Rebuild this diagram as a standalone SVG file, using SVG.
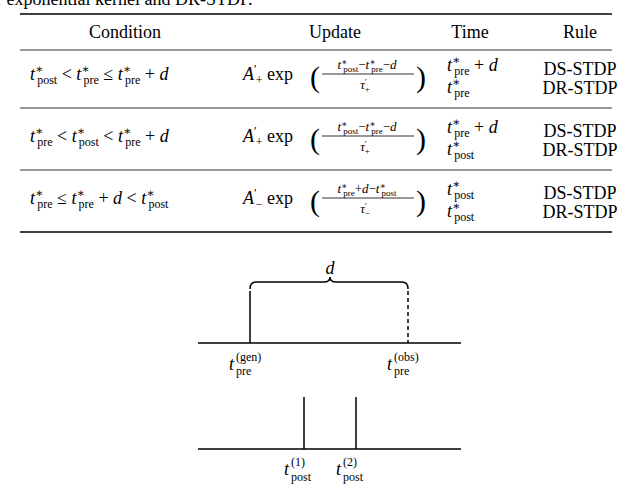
<svg xmlns="http://www.w3.org/2000/svg" width="640" height="488" viewBox="0 0 640 488" font-family="'Liberation Serif', 'DejaVu Serif', serif">
<style>
text{font-family:'Liberation Serif','DejaVu Serif',serif;font-size:18px;fill:#000}
.i{font-style:italic}
.s{font-size:12px}
.f{font-size:13px}
.p{font-size:30px}
.rule{stroke:#000;stroke-width:1.6}
.thin{stroke:#000;stroke-width:0.8}
.ax{stroke:#000;stroke-width:1.5;fill:none}
</style>
<rect width="640" height="488" fill="#fff"/>
<text x="-4" y="5">r exponential kernel and DR-STDP.</text>
<g id="table">
<line class="rule" x1="20" y1="14" x2="612" y2="14"/>
<line class="thin" x1="20" y1="50" x2="612" y2="50"/>
<line class="thin" x1="20" y1="108" x2="612" y2="108"/>
<line class="thin" x1="20" y1="170" x2="612" y2="170"/>
<line class="rule" x1="20" y1="232" x2="612" y2="232"/>
<text x="125" y="38" text-anchor="middle">Condition</text>
<text x="335" y="38" text-anchor="middle">Update</text>
<text x="470" y="38" text-anchor="middle">Time</text>
<text x="580" y="38" text-anchor="middle">Rule</text>

<!-- row 1 -->
<text x="30" y="80"><tspan class="i">t</tspan><tspan class="s" dy="-7">∗</tspan><tspan class="s" dx="-6" dy="11">post</tspan><tspan dy="-4"> &lt; </tspan><tspan class="i">t</tspan><tspan class="s" dy="-7">∗</tspan><tspan class="s" dx="-6" dy="11">pre</tspan><tspan dy="-4"> ≤ </tspan><tspan class="i">t</tspan><tspan class="s" dy="-7">∗</tspan><tspan class="s" dx="-6" dy="11">pre</tspan><tspan dy="-4"> + </tspan><tspan class="i">d</tspan></text>
<text x="243" y="80"><tspan class="i">A</tspan><tspan class="s" dy="-7">′</tspan><tspan class="s" dx="-1" dy="11">+</tspan><tspan dy="-4"> exp</tspan></text>
<text class="p" x="310" y="87">(</text>
<text class="f" x="367" y="69" text-anchor="middle"><tspan class="i">t</tspan><tspan font-size="9" dy="-4">∗</tspan><tspan font-size="9" dx="-4" dy="7">post</tspan><tspan dy="-3">−</tspan><tspan class="i">t</tspan><tspan font-size="9" dy="-4">∗</tspan><tspan font-size="9" dx="-4" dy="7">pre</tspan><tspan dy="-3">−</tspan><tspan class="i">d</tspan></text>
<line class="thin" x1="322" y1="74" x2="414" y2="74"/>
<text class="f" x="365" y="89" text-anchor="middle"><tspan class="i">τ</tspan><tspan font-size="9" dy="-4">′</tspan><tspan font-size="9" dx="-2" dy="7">+</tspan></text>
<text class="p" x="416" y="87">)</text>
<text x="447" y="71"><tspan class="i">t</tspan><tspan class="s" dy="-7">∗</tspan><tspan class="s" dx="-6" dy="11">pre</tspan><tspan dy="-4"> + </tspan><tspan class="i">d</tspan></text>
<text x="447" y="93"><tspan class="i">t</tspan><tspan class="s" dy="-7">∗</tspan><tspan class="s" dx="-6" dy="11">pre</tspan></text>
<text x="580" y="75" text-anchor="middle">DS-STDP</text>
<text x="580" y="94" text-anchor="middle">DR-STDP</text>

<!-- row 2 -->
<text x="30" y="142"><tspan class="i">t</tspan><tspan class="s" dy="-7">∗</tspan><tspan class="s" dx="-6" dy="11">pre</tspan><tspan dy="-4"> &lt; </tspan><tspan class="i">t</tspan><tspan class="s" dy="-7">∗</tspan><tspan class="s" dx="-6" dy="11">post</tspan><tspan dy="-4"> &lt; </tspan><tspan class="i">t</tspan><tspan class="s" dy="-7">∗</tspan><tspan class="s" dx="-6" dy="11">pre</tspan><tspan dy="-4"> + </tspan><tspan class="i">d</tspan></text>
<text x="243" y="142"><tspan class="i">A</tspan><tspan class="s" dy="-7">′</tspan><tspan class="s" dx="-1" dy="11">+</tspan><tspan dy="-4"> exp</tspan></text>
<text class="p" x="310" y="149">(</text>
<text class="f" x="367" y="131" text-anchor="middle"><tspan class="i">t</tspan><tspan font-size="9" dy="-4">∗</tspan><tspan font-size="9" dx="-4" dy="7">post</tspan><tspan dy="-3">−</tspan><tspan class="i">t</tspan><tspan font-size="9" dy="-4">∗</tspan><tspan font-size="9" dx="-4" dy="7">pre</tspan><tspan dy="-3">−</tspan><tspan class="i">d</tspan></text>
<line class="thin" x1="322" y1="136" x2="414" y2="136"/>
<text class="f" x="365" y="151" text-anchor="middle"><tspan class="i">τ</tspan><tspan font-size="9" dy="-4">′</tspan><tspan font-size="9" dx="-2" dy="7">+</tspan></text>
<text class="p" x="416" y="149">)</text>
<text x="447" y="133"><tspan class="i">t</tspan><tspan class="s" dy="-7">∗</tspan><tspan class="s" dx="-6" dy="11">pre</tspan><tspan dy="-4"> + </tspan><tspan class="i">d</tspan></text>
<text x="447" y="155"><tspan class="i">t</tspan><tspan class="s" dy="-7">∗</tspan><tspan class="s" dx="-6" dy="11">post</tspan></text>
<text x="580" y="137" text-anchor="middle">DS-STDP</text>
<text x="580" y="156" text-anchor="middle">DR-STDP</text>

<!-- row 3 -->
<text x="30" y="204"><tspan class="i">t</tspan><tspan class="s" dy="-7">∗</tspan><tspan class="s" dx="-6" dy="11">pre</tspan><tspan dy="-4"> ≤ </tspan><tspan class="i">t</tspan><tspan class="s" dy="-7">∗</tspan><tspan class="s" dx="-6" dy="11">pre</tspan><tspan dy="-4"> + </tspan><tspan class="i">d</tspan><tspan> &lt; </tspan><tspan class="i">t</tspan><tspan class="s" dy="-7">∗</tspan><tspan class="s" dx="-6" dy="11">post</tspan></text>
<text x="243" y="204"><tspan class="i">A</tspan><tspan class="s" dy="-7">′</tspan><tspan class="s" dx="-1" dy="11">−</tspan><tspan dy="-4"> exp</tspan></text>
<text class="p" x="310" y="211">(</text>
<text class="f" x="367" y="193" text-anchor="middle"><tspan class="i">t</tspan><tspan font-size="9" dy="-4">∗</tspan><tspan font-size="9" dx="-4" dy="7">pre</tspan><tspan dy="-3">+</tspan><tspan class="i">d</tspan><tspan>−</tspan><tspan class="i">t</tspan><tspan font-size="9" dy="-4">∗</tspan><tspan font-size="9" dx="-4" dy="7">post</tspan></text>
<line class="thin" x1="322" y1="198" x2="414" y2="198"/>
<text class="f" x="365" y="213" text-anchor="middle"><tspan class="i">τ</tspan><tspan font-size="9" dy="-4">′</tspan><tspan font-size="9" dx="-2" dy="7">−</tspan></text>
<text class="p" x="416" y="211">)</text>
<text x="447" y="195"><tspan class="i">t</tspan><tspan class="s" dy="-7">∗</tspan><tspan class="s" dx="-6" dy="11">post</tspan></text>
<text x="447" y="217"><tspan class="i">t</tspan><tspan class="s" dy="-7">∗</tspan><tspan class="s" dx="-6" dy="11">post</tspan></text>
<text x="580" y="199" text-anchor="middle">DS-STDP</text>
<text x="580" y="218" text-anchor="middle">DR-STDP</text>
</g>

<g id="pre-axis">
<line class="ax" x1="198" y1="343" x2="461" y2="343"/>
<line class="ax" x1="250" y1="291" x2="250" y2="343"/>
<line class="ax" x1="408" y1="291" x2="408" y2="343" stroke-dasharray="4,3"/>
<path class="ax" stroke-width="1.2" d="M250,289 Q250,282 256,282 L324,282 Q330,282 330,277 Q330,282 336,282 L402,282 Q408,282 408,289"/>
<text class="i" x="330" y="274" text-anchor="middle">d</text>
<text class="i" x="229" y="370">t</text>
<text class="s" x="236" y="361">(gen)</text>
<text class="s" x="236" y="375">pre</text>
<text class="i" x="387" y="370">t</text>
<text class="s" x="394" y="361">(obs)</text>
<text class="s" x="394" y="375">pre</text>
</g>
<g id="post-axis">
<line class="ax" x1="198" y1="449" x2="461" y2="449"/>
<line class="ax" x1="304" y1="397" x2="304" y2="449"/>
<line class="ax" x1="356" y1="397" x2="356" y2="449"/>
<text class="i" x="284" y="475">t</text>
<text class="s" x="291" y="466">(1)</text>
<text class="s" x="291" y="481">post</text>
<text class="i" x="336" y="475">t</text>
<text class="s" x="343" y="466">(2)</text>
<text class="s" x="343" y="481">post</text>
</g>
</svg>
